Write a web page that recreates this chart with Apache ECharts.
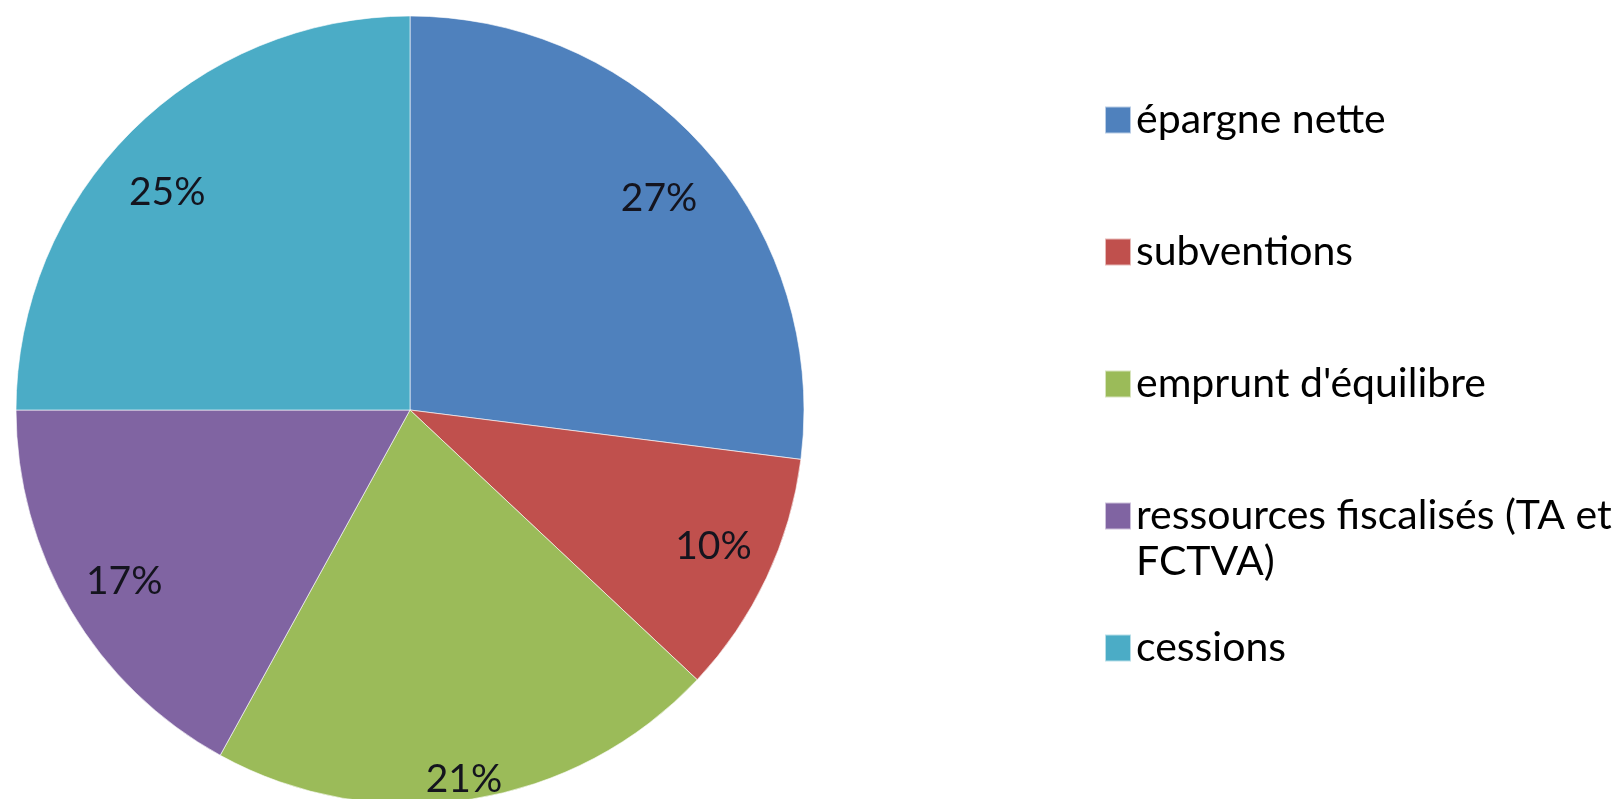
<!DOCTYPE html>
<html>
<head>
<meta charset="utf-8">
<style>
  html, body { margin: 0; padding: 0; background: #ffffff; }
  #chart { width: 1623px; height: 799px; }
</style>
<script src="https://cdn.jsdelivr.net/npm/echarts@6/dist/echarts.min.js"></script>
</head>
<body>
<div id="chart"></div>
<script>
// Investment funding sources (share of total, %)
const categories = [
  'épargne nette',
  'subventions',
  "emprunt d'équilibre",
  'ressources fiscalisés (TA et FCTVA)',
  'cessions'
];
const shares = [27, 10, 21, 17, 25];
const colors = ['#4F81BD', '#C0504D', '#9BBB59', '#8064A2', '#4BACC6'];

// Long legend entries are wrapped onto a second line
const legendSecondLine = {
  'ressources fiscalisés (TA et FCTVA)': ['ressources fiscalisés (TA et', 'FCTVA)']
};

// Small nudges of the percentage labels (best-fit placement)
const labelNudge = [[0, 8], [3, -5], [2, 42], [0, 2], [-8, 17]];

const data = categories.map((name, i) => ({
  name: name,
  value: shares[i],
  itemStyle: { color: colors[i] }
}));

const FONT = 'Lato, "Open Sans", sans-serif';
const CENTER = [410, 410];
const R = 394;
const LINE = 46;       // legend line height
const STEP = 132;      // distance between legend entries
const FIRST = 120;     // centre of the first legend square

// Each legend entry is a 3-line block (blank, text, continuation) so that the
// first text line sits level with the colour square
function legendText(name) {
  const lines = legendSecondLine[name] || [name, ' '];
  return ' \n' + lines[0] + '\n' + lines[1];
}

const chart = echarts.init(document.getElementById('chart'), null, { renderer: 'canvas' });

chart.setOption({
  backgroundColor: '#ffffff',
  animation: false,
  legend: {
    orient: 'vertical',
    left: 1104,
    top: FIRST - 1.5 * LINE,
    padding: 0,
    itemWidth: 26,
    itemHeight: 27,
    itemGap: STEP - 3 * LINE,
    selectedMode: false,
    icon: 'rect',
    data: categories,
    formatter: legendText,
    textStyle: {
      fontFamily: FONT,
      fontSize: 41,
      color: '#000000',
      lineHeight: LINE
    }
  },
  series: [
    {
      // the pie itself
      type: 'pie',
      center: CENTER,
      radius: [0, R],
      startAngle: 90,
      clockwise: true,
      silent: true,
      label: { show: false },
      labelLine: { show: false },
      itemStyle: { borderColor: 'rgba(255,255,255,0.6)', borderWidth: 1 },
      data: data
    },
    {
      // transparent ring that carries the percentage labels near the rim
      type: 'pie',
      center: CENTER,
      radius: [Math.round(R * 0.67), R],
      startAngle: 90,
      clockwise: true,
      silent: true,
      legendHoverLink: false,
      itemStyle: { color: 'rgba(0,0,0,0)', borderWidth: 0 },
      label: {
        show: true,
        position: 'inside',
        formatter: p => p.value + '%',
        fontFamily: FONT,
        fontSize: 39,
        color: '#14141e'
      },
      labelLine: { show: false },
      labelLayout: p => ({ dx: labelNudge[p.dataIndex][0], dy: labelNudge[p.dataIndex][1] }),
      data: categories.map((name, i) => ({ name: name, value: shares[i] }))
    }
  ]
});
</script>
</body>
</html>
